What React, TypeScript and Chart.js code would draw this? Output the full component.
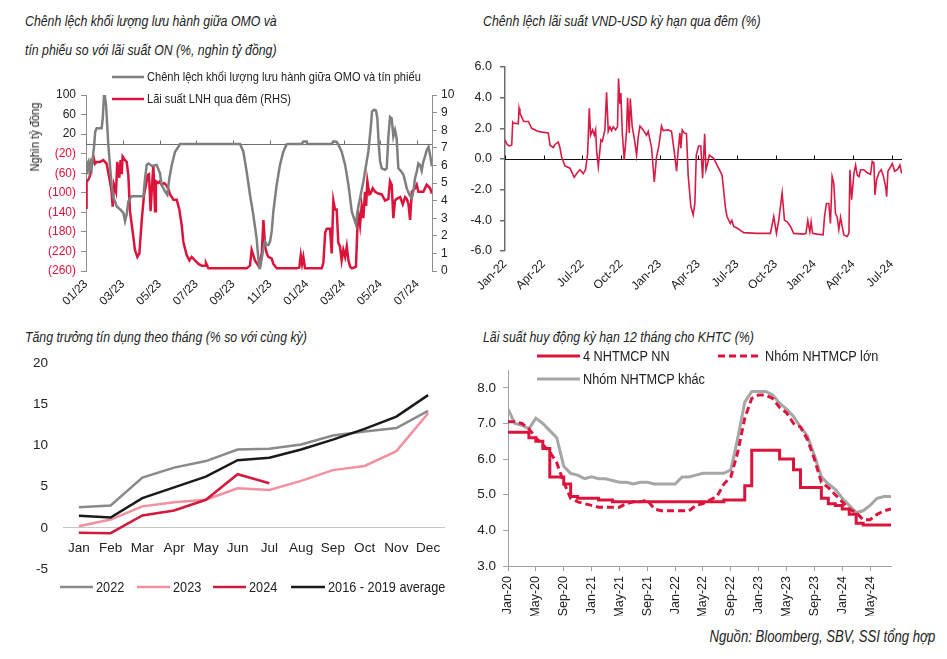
import React, { useEffect, useRef } from 'react';
import { Chart, registerables } from 'chart.js';
Chart.register(...registerables);

const FONT = "'Liberation Sans', Arial, sans-serif";
const RED = '#dc143c';
const PINK = '#f2909f';
const GRAY = '#7f7f7f';
const LGRAY = '#a6a6a6';
const TXT = '#222222';
const NARROW = 0.82;

// ---------- Panel 1: OMO vs bills gap (LHS, nghìn tỷ) and ON interbank rate (RHS, %) ----------
// x = months since Jan 2023
const p1TickMonths = [0, 2, 4, 6, 8, 10, 12, 14, 16, 18];
const p1TickLabels = ['01/23', '03/23', '05/23', '07/23', '09/23', '11/23', '01/24', '03/24', '05/24', '07/24'];
const p1LeftTicks = [100, 60, 20, -20, -60, -100, -140, -180, -220, -260];
const omoGap: [number, number][] = [
  [0, -60], [0.04, -43], [0.13, -36], [0.18, -55], [0.25, -40], [0.31, -50], [0.45, 0], [0.5, 25], [0.58, 32],
  [0.85, 32], [0.91, 52], [0.98, 100], [1.03, 95], [1.09, 80], [1.21, 0], [1.3, -43], [1.39, -84], [1.49, -111],
  [1.58, -118], [1.67, -128], [1.85, -134], [2.03, -141], [2.12, -158], [2.21, -144], [2.3, -118], [2.48, -107],
  [3.12, -107], [3.21, -70], [3.3, -43], [3.39, -40], [3.48, -42], [3.57, -45], [3.84, -43], [4.02, -60],
  [4.11, -84], [4.29, -97], [4.42, -104], [4.53, -70], [4.66, -43], [4.84, -16], [5.02, -6], [5.11, 0],
  [8.37, 0], [8.55, -16], [8.73, -57], [8.91, -104], [9.09, -145], [9.27, -193], [9.36, -233], [9.42, -254],
  [9.46, -254], [9.55, -234], [9.64, -213], [9.73, -200], [9.82, -207], [9.91, -207], [10.0, -200], [10.09, -179],
  [10.18, -138], [10.36, -84], [10.54, -43], [10.72, -16], [10.9, -1], [11.0, 0], [11.72, 0], [11.81, 5],
  [11.96, 5], [12.03, 0], [13.35, 0], [13.44, 5], [13.62, 4], [13.71, -1], [13.89, -16], [14.08, -43],
  [14.26, -84], [14.44, -138], [14.67, -165], [14.75, -138], [14.89, -111], [15.07, -77], [15.25, -36],
  [15.34, -16], [15.47, 32], [15.54, 66], [15.65, 70], [15.76, 68], [15.83, 52], [15.91, -3], [15.98, -36],
  [16.07, -50], [16.25, -53], [16.34, -50], [16.43, 15], [16.52, 55], [16.61, 52], [16.7, 15], [16.79, 28],
  [16.88, 11], [16.97, -50], [17.1, -55], [17.25, -63], [17.43, -91], [17.57, -104], [17.7, -111], [17.79, -97],
  [17.88, -70], [17.97, -57], [18.06, -40], [18.15, -43], [18.24, -55], [18.33, -36], [18.42, -26], [18.51, -13],
  [18.61, -6], [18.7, -23], [18.79, -46],
];
const onRate: [number, number][] = [
  [0, 3.6], [0.02, 4.5], [0.04, 5.07], [0.13, 5.2], [0.22, 5.4], [0.31, 6.0], [0.4, 6.5], [0.49, 6.1], [0.58, 6.2],
  [0.76, 6.2], [0.94, 6.3], [1.12, 6.1], [1.21, 5.6], [1.3, 5.1], [1.39, 4.5], [1.45, 3.65], [1.52, 4.9], [1.63, 4.5],
  [1.7, 6.2], [1.81, 5.3], [1.88, 6.3], [1.94, 5.5], [1.99, 6.5], [2.12, 6.3], [2.21, 6.2], [2.3, 5.45], [2.39, 3.4],
  [2.54, 2.2], [2.66, 1.2], [2.79, 0.8], [2.9, 1.0], [3.03, 2.9], [3.15, 4.3], [3.26, 4.9], [3.35, 5.45], [3.42, 5.5],
  [3.51, 3.4], [3.59, 4.9], [3.66, 6.0], [3.75, 3.4], [3.8, 5.1], [3.93, 5.0], [4.02, 5.1], [4.11, 4.9], [4.24, 5.0],
  [4.35, 4.9], [4.46, 4.7], [4.57, 4.35], [4.75, 4.05], [4.93, 4.05], [5.07, 3.5], [5.2, 2.6], [5.29, 1.65],
  [5.47, 0.9], [5.62, 0.6], [5.74, 0.8], [5.92, 0.6], [6.11, 0.4], [6.29, 0.3], [6.47, 0.3], [6.52, 0.45],
  [6.65, 0.15], [8.73, 0.15], [8.91, 0.3], [9.0, 1.2], [9.18, 0.6], [9.37, 0.3], [9.55, 1.0], [9.64, 2.9],
  [9.73, 1.4], [9.82, 1.0], [9.91, 0.8], [10.09, 0.7], [10.18, 0.4], [10.36, 0.15], [11.45, 0.15], [11.59, 0.2],
  [11.67, 0.9], [11.74, 0.4], [11.81, 0.8], [11.9, 0.15], [12.81, 0.15], [12.9, 0.5], [13.0, 2.2], [13.08, 2.4],
  [13.26, 2.4], [13.35, 1.0], [13.44, 4.0], [13.53, 3.5], [13.62, 3.5], [13.71, 1.6], [13.8, 1.4], [13.89, 0.6],
  [13.98, 1.2], [14.08, 0.8], [14.17, 1.4], [14.26, 0.6], [14.35, 0.25], [14.44, 0.15], [14.57, 0.2], [14.67, 0.25],
  [14.75, 2.6], [14.8, 3.3], [14.89, 2.6], [14.98, 3.7], [15.07, 3.0], [15.16, 4.5], [15.22, 3.7], [15.29, 5.1],
  [15.4, 4.35], [15.47, 4.4], [15.58, 4.7], [15.71, 4.5], [15.89, 4.4], [16.07, 4.35], [16.25, 4.0], [16.43, 4.1],
  [16.52, 5.1], [16.61, 4.9], [16.7, 3.0], [16.79, 4.0], [16.88, 4.1], [17.07, 4.2], [17.21, 3.8], [17.34, 4.2],
  [17.43, 4.1], [17.52, 3.8], [17.61, 2.9], [17.7, 4.5], [17.88, 4.7], [17.97, 4.9], [18.06, 4.5], [18.19, 4.5],
  [18.33, 4.5], [18.51, 4.9], [18.7, 4.7], [18.79, 4.4],
];

// ---------- Panel 2: VND-USD overnight spread (%) ; x = months since Jan 2022 ----------
const p2TickMonths = [0, 3, 6, 9, 12, 15, 18, 21, 24, 27, 30];
const p2TickLabels = ['Jan-22', 'Apr-22', 'Jul-22', 'Oct-22', 'Jan-23', 'Apr-23', 'Jul-23', 'Oct-23', 'Jan-24', 'Apr-24', 'Jul-24'];
const p2LeftTicks = [6, 4, 2, 0, -2, -4, -6];
const vndUsdSpread: [number, number][] = [
  [0, 1.25], [0.13, 1.0], [0.31, 0.85], [0.52, 0.9], [0.6, 2.4], [0.65, 2.35], [1.03, 2.3], [1.09, 3.3], [1.16, 3.0],
  [1.29, 2.75], [1.45, 2.45], [1.81, 2.45], [2.07, 2.0], [2.58, 1.8], [2.9, 1.75], [3.36, 1.7], [3.49, 0.9],
  [3.75, 0.75], [3.88, 0.95], [4.13, 1.1], [4.26, 0.75], [4.39, 0.15], [4.65, -0.45], [5.04, -0.6], [5.37, -1.2],
  [5.56, -0.95], [5.81, -0.7], [6.07, -0.95], [6.25, -0.7], [6.41, 0.35], [6.54, 3.3], [6.64, 1.55], [6.8, 1.9],
  [6.93, 1.55], [7.03, 1.9], [7.11, 0.5], [7.24, -0.5], [7.44, 1.25], [7.55, 1.15], [7.75, 1.9], [7.88, 4.35],
  [8.01, 1.8], [8.14, 2.1], [8.27, 1.85], [8.4, 2.1], [8.58, 1.9], [8.73, 2.1], [8.81, 5.25], [8.91, 3.6],
  [8.99, 4.3], [9.1, 1.7], [9.25, -0.05], [9.43, 1.8], [9.51, 4.0], [9.64, 1.7], [9.72, 3.95], [9.87, 2.1],
  [10.03, 1.35], [10.21, 0.25], [10.34, 1.45], [10.47, 2.15], [10.72, 1.9], [10.98, 1.55], [11.11, 1.8],
  [11.37, 0.75], [11.58, -1.5], [11.76, 0.15], [11.94, 0.85], [12.14, 2.15], [12.27, 1.85], [12.66, 1.9],
  [12.92, 1.8], [13.18, 0.15], [13.31, -0.8], [13.44, 0.6], [13.57, 1.7], [13.64, 0.7], [13.75, 1.9], [13.9, 1.7],
  [14.08, 1.65], [14.21, -1.05], [14.42, -3.1], [14.6, -3.65], [14.73, -2.9], [14.84, 0.25], [15.02, 0.85],
  [15.19, 0.85], [15.33, -1.25], [15.49, 1.65], [15.59, -0.7], [15.72, -0.3], [15.85, 0.25], [16.19, 0.05],
  [16.45, -0.4], [16.84, -1.05], [16.96, -2.0], [17.09, -3.1], [17.22, -3.75], [17.48, -4.2], [17.6, -4.0],
  [17.74, -4.4], [18.0, -4.5], [18.26, -4.65], [18.52, -4.8], [19.55, -4.85], [20.59, -4.85], [20.85, -3.75],
  [21.06, -4.85], [21.24, -4.0], [21.5, -2.2], [21.68, -4.0], [21.9, -4.1], [22.15, -4.4], [22.4, -4.85],
  [23.18, -4.9], [23.35, -4.85], [23.49, -4.0], [23.65, -4.75], [23.75, -4.1], [23.86, -4.85], [24.22, -4.9],
  [24.68, -4.95], [24.79, -3.75], [24.94, -2.9], [25.12, -2.9], [25.25, -4.2], [25.38, -1.15], [25.51, -1.6],
  [25.64, -3.55], [25.77, -3.8], [25.9, -4.6], [26.03, -3.8], [26.16, -4.4], [26.29, -4.95], [26.55, -5.05],
  [26.68, -4.85], [26.76, -0.7], [26.89, -2.65], [27.07, -0.95], [27.2, -0.4], [27.33, -1.05], [27.46, -1.15],
  [27.59, -0.7], [27.84, -0.7], [28.1, -0.9], [28.36, -1.0], [28.49, -0.15], [28.62, -0.25], [28.7, -2.35],
  [28.83, -1.35], [29.01, -0.9], [29.19, -0.7], [29.35, -1.1], [29.53, -1.8], [29.61, -2.45], [29.71, -0.8],
  [29.92, -0.5], [30.05, -0.3], [30.23, -0.8], [30.44, -0.7], [30.64, -0.4], [30.77, -0.95],
];

// ---------- Panel 3: monthly credit growth (% YoY) ----------
const months3 = ['Jan', 'Feb', 'Mar', 'Apr', 'May', 'Jun', 'Jul', 'Aug', 'Sep', 'Oct', 'Nov', 'Dec'];
const credit2022 = [2.5, 2.7, 6.1, 7.3, 8.1, 9.5, 9.6, 10.1, 11.2, 11.7, 12.1, 14.2];
const credit2023 = [0.2, 1.0, 2.6, 3.1, 3.4, 4.8, 4.6, 5.7, 7.0, 7.5, 9.3, 13.9];
const credit2024 = [-0.6, -0.65, 1.5, 2.1, 3.4, 6.5, 5.4];
const creditAvg1619 = [1.45, 1.25, 3.6, 4.9, 6.2, 8.2, 8.5, 9.5, 10.7, 12.0, 13.5, 16.1];

// ---------- Panel 4: 12M deposit rates (%) ; monthly from Jan 2020 ----------
const p4TickMonths = [0, 4, 8, 12, 16, 20, 24, 28, 32, 36, 40, 44, 48, 52];
const p4TickLabels = ['Jan-20', 'May-20', 'Sep-20', 'Jan-21', 'May-21', 'Sep-21', 'Jan-22', 'May-22', 'Sep-22', 'Jan-23', 'May-23', 'Sep-23', 'Jan-24', 'May-24'];
const rateSOCB = [6.75, 6.75, 6.75, 6.6, 6.5, 6.3, 5.5, 5.5, 5.3, 4.95, 4.9, 4.9, 4.9, 4.85, 4.85, 4.8, 4.8, 4.8, 4.8, 4.8,
  4.8, 4.8, 4.8, 4.8, 4.8, 4.8, 4.8, 4.8, 4.8, 4.8, 4.8, 4.85, 4.85, 4.85, 5.25, 6.25, 6.25, 6.25, 6.25, 6.0,
  6.0, 5.7, 5.2, 5.2, 5.2, 4.9, 4.75, 4.7, 4.6, 4.45, 4.2, 4.15, 4.15, 4.15, 4.15, 4.15];
const rateLarge = [7.05, 7.05, 7.0, 6.85, 6.6, 6.4, 6.2, 5.9, 5.35, 4.9, 4.8, 4.75, 4.7, 4.65, 4.65, 4.65, 4.65, 4.75, 4.8, 4.8,
  4.85, 4.6, 4.55, 4.55, 4.55, 4.55, 4.55, 4.7, 4.75, 4.85, 4.95, 5.3, 5.5, 6.2, 7.15, 7.7, 7.8, 7.8, 7.7, 7.45,
  7.3, 7.0, 6.9, 6.55, 6.0, 5.35, 5.2, 5.0, 4.8, 4.6, 4.5, 4.3, 4.3, 4.45, 4.55, 4.6];
const rateOther = [7.4, 7.0, 6.95, 6.85, 7.15, 7.0, 6.8, 6.6, 5.8, 5.6, 5.55, 5.45, 5.5, 5.45, 5.45, 5.4, 5.35, 5.35, 5.3, 5.35,
  5.35, 5.3, 5.3, 5.3, 5.3, 5.5, 5.5, 5.55, 5.6, 5.6, 5.6, 5.6, 5.7, 6.6, 7.6, 7.9, 7.9, 7.9, 7.8, 7.57,
  7.4, 7.2, 6.9, 6.65, 6.1, 5.5, 5.3, 5.15, 4.9, 4.7, 4.5, 4.55, 4.7, 4.9, 4.95, 4.95];

// ---------- helpers ----------
const pts = (arr: [number, number][]) => arr.map(([x, y]) => ({ x, y }));
const idxPts = (arr: number[]) => arr.map((y, i) => ({ x: i, y }));
const font = (size: number) => ({ family: FONT, size });

const fitY = (w: number) => (s: any) => { s.width = w; s.paddingTop = 0; s.paddingBottom = 0; };
const fitX = (h: number) => (s: any) => { s.height = h; s.paddingLeft = 0; s.paddingRight = 0; };

function zeroLinePlugin(yId: string, color: string) {
  return {
    id: 'zeroLine',
    beforeDatasetsDraw(chart: any) {
      const { ctx, chartArea, scales } = chart;
      const y = Math.round(scales[yId].getPixelForValue(0)) + 0.5;
      ctx.save();
      ctx.strokeStyle = color;
      ctx.lineWidth = 1;
      ctx.beginPath();
      ctx.moveTo(chartArea.left, y);
      ctx.lineTo(chartArea.right, y);
      for (const t of scales.x.ticks) {
        const x = Math.round(scales.x.getPixelForValue(t.value)) + 0.5;
        ctx.moveTo(x, y);
        ctx.lineTo(x, y - 4);
      }
      ctx.stroke();
      ctx.restore();
    },
  };
}

function ChartBox({ left, top, width, height, make }: { left: number; top: number; width: number; height: number; make: () => any }) {
  const ref = useRef<HTMLCanvasElement>(null);
  useEffect(() => {
    const chart = new Chart(ref.current as HTMLCanvasElement, make());
    return () => chart.destroy();
  }, []);
  return <canvas ref={ref} width={width} height={height} style={{ position: 'absolute', left, top, width, height }} />;
}

function Txt({ left, cy, size, children, italic, right, color }: any) {
  const style: any = {
    position: 'absolute', top: cy - size * 0.6, fontSize: size, lineHeight: `${size * 1.2}px`,
    whiteSpace: 'nowrap', fontFamily: FONT, color: color || TXT, fontStyle: italic ? 'italic' : 'normal',
    transform: `scaleX(${NARROW})`, transformOrigin: right !== undefined ? 'right center' : 'left center',
  };
  if (right !== undefined) style.right = right; else style.left = left;
  return <div style={style}>{children}</div>;
}

function LegLine({ x1, x2, y, color, w, dash }: any) {
  return (
    <svg style={{ position: 'absolute', left: x1, top: y - 3, width: x2 - x1, height: 6, overflow: 'visible' }}>
      <line x1={0} y1={3} x2={x2 - x1} y2={3} stroke={color} strokeWidth={w} strokeDasharray={dash} />
    </svg>
  );
}

// ---------- chart configs ----------
const makeP1 = () => ({
  type: 'line',
  data: {
    datasets: [
      { label: 'Chênh lệch khối lượng lưu hành giữa OMO và tín phiếu', data: pts(omoGap), yAxisID: 'y', borderColor: GRAY, borderWidth: 2.5, pointRadius: 0, tension: 0 },
      { label: 'Lãi suất LNH qua đêm (RHS)', data: pts(onRate), yAxisID: 'y1', borderColor: RED, borderWidth: 2.5, pointRadius: 0, tension: 0 },
    ],
  },
  options: {
    responsive: false, animation: false,
    layout: { padding: { left: 36, right: 8, top: 35, bottom: 9 } },
    plugins: { legend: { display: false }, tooltip: { enabled: false } },
    scales: {
      x: {
        type: 'linear', min: 0, max: 18.8,
        afterBuildTicks: (s: any) => { s.ticks = p1TickMonths.map((v) => ({ value: v })); },
        ticks: { autoSkip: false, minRotation: 45, maxRotation: 45, padding: 6, font: font(12), color: TXT,
          callback: (v: any) => p1TickLabels[p1TickMonths.indexOf(v)] },
        grid: { display: false, drawTicks: false }, border: { display: false },
        afterFit: fitX(40),
      },
      y: {
        position: 'left', min: -260, max: 100,
        afterBuildTicks: (s: any) => { s.ticks = p1LeftTicks.map((v) => ({ value: v })); },
        ticks: { font: font(12), padding: 5, color: (c: any) => (c.tick && c.tick.value < 0 ? RED : TXT),
          callback: (v: any) => (v < 0 ? `(${-v})` : `${v}`) },
        grid: { drawOnChartArea: false, drawTicks: true, tickLength: 5, color: '#8c8c8c' },
        border: { color: '#8c8c8c' },
        afterFit: fitY(50),
      },
      y1: {
        position: 'right', min: 0, max: 10,
        ticks: { stepSize: 1, font: font(12), padding: 4, color: TXT },
        grid: { drawOnChartArea: false, drawTicks: true, tickLength: 5, color: '#8c8c8c' },
        border: { color: '#8c8c8c' },
        afterFit: fitY(30),
      },
    },
  },
  plugins: [zeroLinePlugin('y', '#6e6e6e')],
});

const makeP2 = () => ({
  type: 'line',
  data: { datasets: [{ label: 'VND-USD', data: pts(vndUsdSpread), borderColor: '#d81b45', borderWidth: 1.6, pointRadius: 0, tension: 0 }] },
  options: {
    responsive: false, animation: false,
    layout: { padding: { left: 10, right: 45, top: 12, bottom: 19 } },
    plugins: { legend: { display: false }, tooltip: { enabled: false } },
    scales: {
      x: {
        type: 'linear', min: 0, max: 30.8,
        afterBuildTicks: (s: any) => { s.ticks = p2TickMonths.map((v) => ({ value: v })); },
        ticks: { autoSkip: false, minRotation: 45, maxRotation: 45, padding: 6, font: font(12), color: TXT,
          callback: (v: any) => p2TickLabels[p2TickMonths.indexOf(v)] },
        grid: { display: false, drawTicks: false }, border: { display: false },
        afterFit: fitX(45),
      },
      y: {
        min: -6, max: 6,
        afterBuildTicks: (s: any) => { s.ticks = p2LeftTicks.map((v) => ({ value: v })); },
        ticks: { font: font(12.5), padding: 8, color: TXT, callback: (v: any) => Number(v).toFixed(1) },
        grid: { drawOnChartArea: false, drawTicks: true, tickLength: 5, color: '#6e6e6e', lineWidth: 1.5 },
        border: { color: '#6e6e6e', width: 1.5 },
        afterFit: fitY(45),
      },
    },
  },
  plugins: [zeroLinePlugin('y', '#111111')],
});

const makeP3 = () => ({
  type: 'line',
  data: {
    labels: months3,
    datasets: [
      { label: '2024', data: credit2024, borderColor: '#d11a3c', borderWidth: 2.5, pointRadius: 0, tension: 0 },
      { label: '2016 - 2019 average', data: creditAvg1619, borderColor: '#1a1a1a', borderWidth: 2.5, pointRadius: 0, tension: 0 },
      { label: '2023', data: credit2023, borderColor: PINK, borderWidth: 2.5, pointRadius: 0, tension: 0 },
      { label: '2022', data: credit2022, borderColor: '#8a8a8a', borderWidth: 2.5, pointRadius: 0, tension: 0 },
    ],
  },
  options: {
    responsive: false, animation: false,
    layout: { padding: { left: 0, right: 26, top: 13, bottom: 11 } },
    plugins: { legend: { display: false }, tooltip: { enabled: false } },
    scales: {
      x: {
        position: { y: 0 }, offset: true,
        ticks: { font: font(13.5), padding: 12, color: TXT, autoSkip: false, maxRotation: 0, minRotation: 0 },
        grid: { display: false, drawTicks: false }, border: { color: '#c8c8c8', width: 1 },
        afterFit: fitX(30),
      },
      y: {
        min: -5, max: 20,
        ticks: { stepSize: 5, font: font(13.5), padding: 15, color: TXT },
        grid: { display: false, drawTicks: false }, border: { display: false },
        afterFit: fitY(63),
      },
    },
  },
});

const makeP4 = () => ({
  type: 'line',
  data: {
    datasets: [
      { label: '4 NHTMCP NN', data: idxPts(rateSOCB), borderColor: RED, borderWidth: 3, pointRadius: 0, stepped: true },
      { label: 'Nhóm NHTMCP lớn', data: idxPts(rateLarge), borderColor: RED, borderWidth: 3, borderDash: [7, 4], pointRadius: 0, tension: 0 },
      { label: 'Nhóm NHTMCP khác', data: idxPts(rateOther), borderColor: LGRAY, borderWidth: 3, pointRadius: 0, tension: 0 },
    ],
  },
  options: {
    responsive: false, animation: false,
    layout: { padding: { left: 0, right: 56, top: 10, bottom: 4 } },
    plugins: { legend: { display: false }, tooltip: { enabled: false } },
    scales: {
      x: {
        type: 'linear', min: 0, max: 55,
        afterBuildTicks: (s: any) => { s.ticks = p4TickMonths.map((v) => ({ value: v })); },
        ticks: { autoSkip: false, minRotation: 90, maxRotation: 90, padding: 5, font: font(12.5), color: TXT,
          callback: (v: any) => p4TickLabels[p4TickMonths.indexOf(v)] },
        grid: { drawOnChartArea: false, drawTicks: true, tickLength: 5, color: '#a0a0a0' },
        border: { color: '#a0a0a0' },
        afterFit: fitX(50),
      },
      y: {
        min: 3, max: 8.5,
        afterBuildTicks: (s: any) => { s.ticks = [3, 4, 5, 6, 7, 8].map((v) => ({ value: v })); },
        ticks: { font: font(13.5), padding: 7, color: TXT, callback: (v: any) => Number(v).toFixed(1) },
        grid: { drawOnChartArea: false, drawTicks: true, tickLength: 5, color: '#a0a0a0' },
        border: { color: '#a0a0a0' },
        afterFit: fitY(38),
      },
    },
  },
});

export default function App() {
  return (
    <div style={{ position: 'absolute', left: 0, top: 0, width: 947, height: 659, background: '#fff', overflow: 'hidden' }}>
      <ChartBox left={0} top={60} width={470} height={260} make={makeP1} />
      <ChartBox left={450} top={55} width={497} height={260} make={makeP2} />
      <ChartBox left={0} top={350} width={470} height={230} make={makeP3} />
      <ChartBox left={470} top={360} width={477} height={260} make={makeP4} />

      {/* titles */}
      <Txt left={25} cy={21} size={15} italic>Chênh lệch khối lượng lưu hành giữa OMO và</Txt>
      <Txt left={25} cy={50} size={15} italic>tín phiếu so với lãi suất ON (%, nghìn tỷ đồng)</Txt>
      <Txt left={483} cy={21} size={15} italic>Chênh lệch lãi suất VND-USD kỳ hạn qua đêm (%)</Txt>
      <Txt left={25} cy={337} size={15} italic>Tăng trưởng tín dụng theo tháng (% so với cùng kỳ)</Txt>
      <Txt left={483} cy={337} size={15} italic>Lãi suất huy động kỳ hạn 12 tháng cho KHTC (%)</Txt>
      <Txt right={12} cy={637} size={16} italic>Nguồn: Bloomberg, SBV, SSI tổng hợp</Txt>

      {/* panel 1 legend + axis title */}
      <LegLine x1={112} x2={144} y={77} color={GRAY} w={2.5} />
      <Txt left={147} cy={77} size={13.5}>Chênh lệch khối lượng lưu hành giữa OMO và tín phiếu</Txt>
      <LegLine x1={112} x2={144} y={99} color={RED} w={2.5} />
      <Txt left={147} cy={99} size={13.5}>Lãi suất LNH qua đêm (RHS)</Txt>
      <div style={{ position: 'absolute', left: 35, top: 137, transform: `translate(-50%, -50%) rotate(-90deg) scaleX(${NARROW})`, fontFamily: FONT, fontSize: 13.5, lineHeight: '16px', color: TXT, whiteSpace: 'nowrap' }}>Nghìn tỷ đồng</div>

      {/* panel 3 legend */}
      <LegLine x1={60} x2={93} y={587} color="#8a8a8a" w={2.5} />
      <Txt left={96} cy={587} size={15.5}>2022</Txt>
      <LegLine x1={137} x2={170} y={587} color={PINK} w={2.5} />
      <Txt left={173} cy={587} size={15.5}>2023</Txt>
      <LegLine x1={213} x2={246} y={587} color="#d11a3c" w={2.5} />
      <Txt left={249} cy={587} size={15.5}>2024</Txt>
      <LegLine x1={291} x2={325} y={587} color="#1a1a1a" w={2.5} />
      <Txt left={328} cy={587} size={15.5}>2016 - 2019 average</Txt>

      {/* panel 4 legend */}
      <LegLine x1={537} x2={580} y={356} color={RED} w={3} />
      <Txt left={583} cy={356} size={15.5}>4 NHTMCP NN</Txt>
      <LegLine x1={718} x2={761} y={356} color={RED} w={3} dash="7 4" />
      <Txt left={765} cy={356} size={15.5}>Nhóm NHTMCP lớn</Txt>
      <LegLine x1={537} x2={580} y={379} color={LGRAY} w={3} />
      <Txt left={583} cy={379} size={15.5}>Nhóm NHTMCP khác</Txt>
    </div>
  );
}
